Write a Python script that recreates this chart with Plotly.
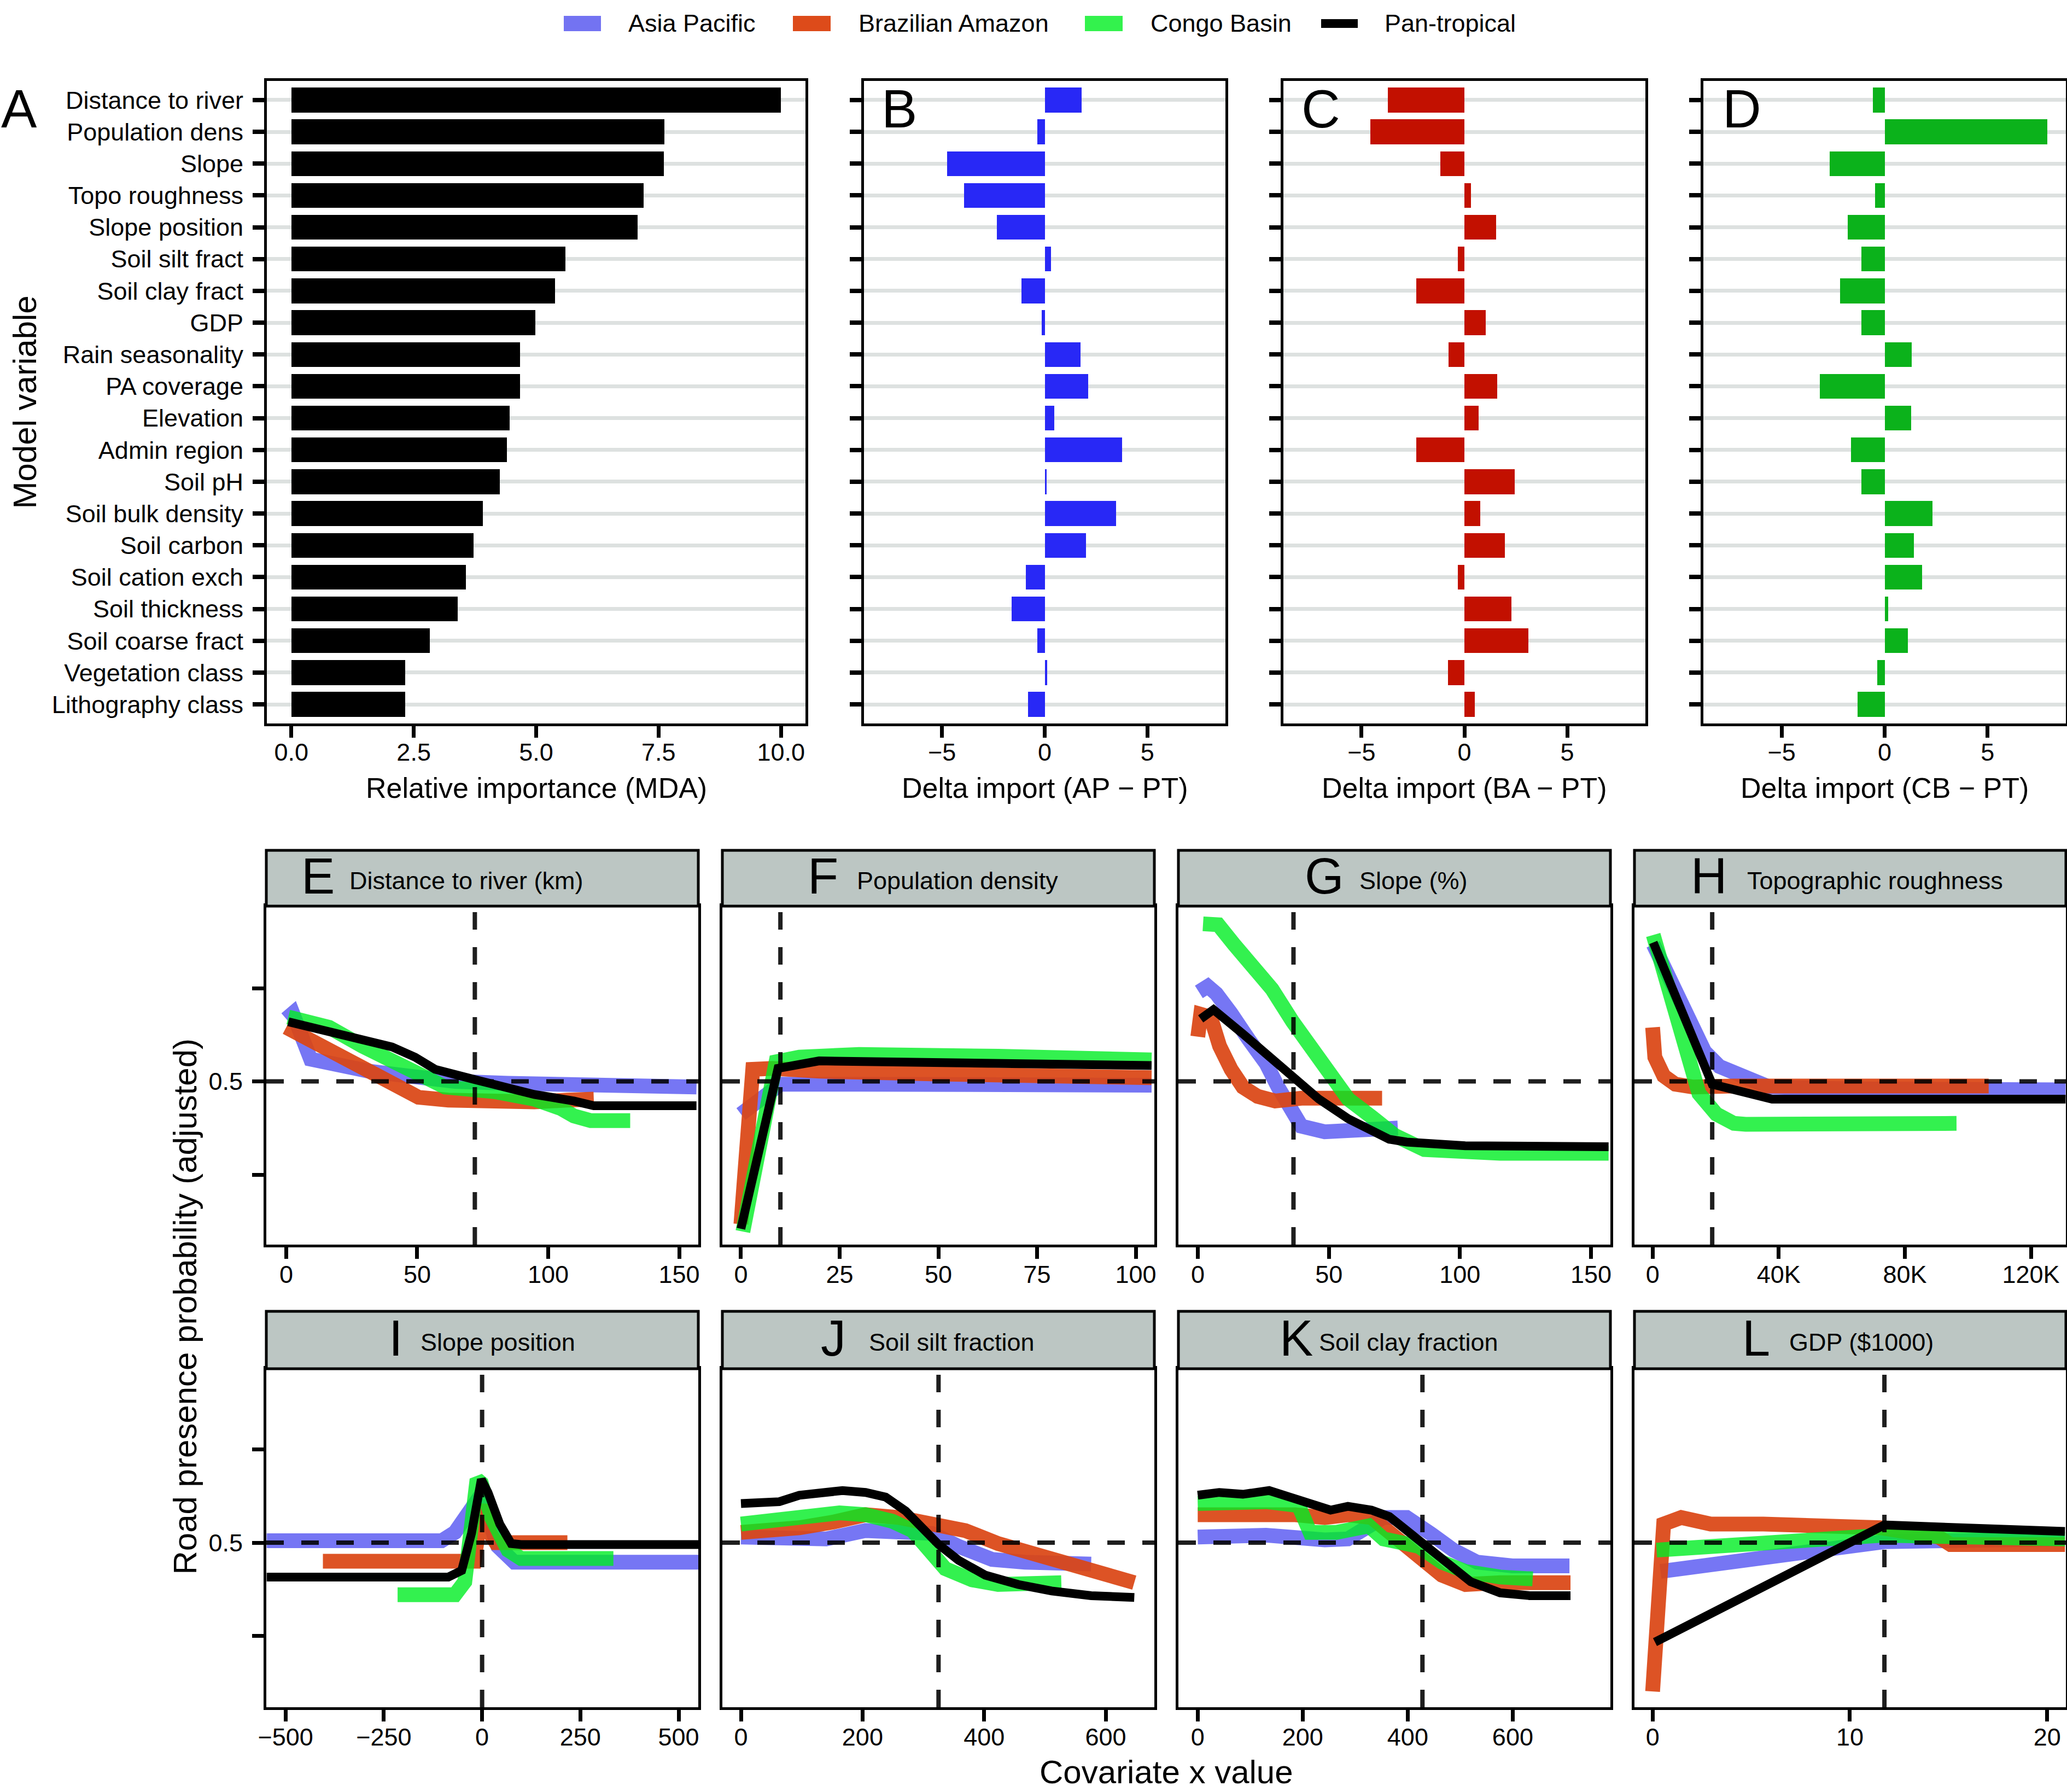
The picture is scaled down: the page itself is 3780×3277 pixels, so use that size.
import plotly.graph_objects as go

W, H = 3780, 3277
FONT = "Liberation Sans, Arial, Helvetica, sans-serif"

# ---------------- data: panel A-D ----------------
variables = ["Distance to river", "Population dens", "Slope", "Topo roughness", "Slope position",
             "Soil silt fract", "Soil clay fract", "GDP", "Rain seasonality", "PA coverage",
             "Elevation", "Admin region", "Soil pH", "Soil bulk density", "Soil carbon",
             "Soil cation exch", "Soil thickness", "Soil coarse fract", "Vegetation class",
             "Lithography class"]
importance = [10.0, 7.62, 7.61, 7.19, 7.07, 5.60, 5.39, 4.98, 4.67, 4.67,
              4.46, 4.40, 4.26, 3.91, 3.72, 3.57, 3.40, 2.83, 2.33, 2.33]
delta_ap = [1.81, -0.35, -4.75, -3.94, -2.32, 0.31, -1.12, -0.15, 1.74, 2.12,
            0.46, 3.78, 0.08, 3.47, 2.00, -0.93, -1.62, -0.35, 0.12, -0.81]
delta_ba = [-3.72, -4.57, -1.16, 0.31, 1.55, -0.31, -2.33, 1.05, -0.78, 1.59,
            0.70, -2.33, 2.44, 0.78, 1.98, -0.31, 2.29, 3.10, -0.81, 0.50]
delta_cb = [-0.58, 7.90, -2.67, -0.47, -1.78, -1.12, -2.17, -1.12, 1.32, -3.14,
            1.28, -1.63, -1.12, 2.33, 1.43, 1.82, 0.16, 1.12, -0.35, -1.32]

regions = ["Asia Pacific", "Brazilian Amazon", "Congo Basin", "Pan-tropical"]

# ---------------- data: partial dependence panels ----------------
# E Distance to river (km)
river_ap_x = [0, 2.5, 9.3, 18.9, 31.6, 49.2, 64.4, 84.6, 120, 156.6]
river_ap_y = [0.567, 0.573, 0.524, 0.518, 0.511, 0.505, 0.500, 0.498, 0.495, 0.494]
river_ba_x = [0, 8.8, 18.9, 29, 40.4, 50.5, 61.9, 79.5, 94.7, 107.3, 117.4]
river_ba_y = [0.558, 0.545, 0.530, 0.513, 0.494, 0.483, 0.480, 0.478, 0.478, 0.480, 0.481]
river_cb_x = [0.8, 16.4, 29, 39.1, 51.8, 60.6, 79.5, 94.7, 104.8, 109.8, 116.2, 131.3]
river_cb_y = [0.569, 0.558, 0.538, 0.524, 0.506, 0.494, 0.489, 0.481, 0.471, 0.463, 0.458, 0.458]
river_pt_x = [0.8, 18.9, 40.4, 49.2, 56.8, 72, 79.5, 94.7, 109.8, 117.4, 156.6]
river_pt_y = [0.564, 0.551, 0.537, 0.526, 0.513, 0.502, 0.497, 0.486, 0.479, 0.474, 0.474]

# F Population density
pop_ap_x = [0, 10, 30, 65, 104]
pop_ap_y = [0.465, 0.497, 0.497, 0.497, 0.496]
pop_ba_x = [0, 3, 8, 20, 50, 80, 104]
pop_ba_y = [0.347, 0.513, 0.514, 0.511, 0.508, 0.506, 0.504]
pop_cb_x = [0.5, 8.9, 14.8, 29.9, 65.2, 104]
pop_cb_y = [0.339, 0.521, 0.526, 0.529, 0.527, 0.523]
pop_pt_x = [0, 9.4, 19.8, 48.4, 104]
pop_pt_y = [0.342, 0.514, 0.522, 0.520, 0.517]

# G Slope (%)
slope_ap_x = [0.4, 3.8, 7.1, 9.4, 12.7, 19.4, 26.1, 30.6, 35, 39.5, 48.4, 59.6, 66.3, 76.3]
slope_ap_y = [0.596, 0.602, 0.594, 0.583, 0.573, 0.545, 0.519, 0.494, 0.471, 0.452, 0.446, 0.449, 0.449, 0.450]
slope_ba_x = [0, 1.1, 4.9, 8.3, 12.7, 17.2, 22.8, 29.5, 39.5, 70.3]
slope_ba_y = [0.548, 0.572, 0.569, 0.538, 0.513, 0.494, 0.484, 0.479, 0.482, 0.482]
slope_cb_x = [2, 7.8, 13.8, 21.7, 28.3, 36.2, 44, 50.7, 57.4, 66.3, 75.2, 86.4, 102, 115.4, 156.7]
slope_cb_y = [0.669, 0.668, 0.647, 0.621, 0.599, 0.564, 0.535, 0.506, 0.481, 0.462, 0.442, 0.427, 0.425, 0.423, 0.423]
slope_pt_x = [1.1, 6, 17.2, 26.1, 37.3, 46.2, 57.4, 66.3, 73, 79.7, 102, 156.7]
slope_pt_y = [0.567, 0.577, 0.551, 0.530, 0.503, 0.481, 0.460, 0.447, 0.438, 0.435, 0.431, 0.430]

# H Topographic roughness
rough_ap_x = [200, 5400, 10900, 16500, 21200, 27700, 37000, 63000, 131000]
rough_ap_y = [0.647, 0.609, 0.570, 0.532, 0.516, 0.508, 0.494, 0.492, 0.491]
rough_ba_x = [0, 700, 3500, 7200, 12800, 25800, 106600]
rough_ba_y = [0.558, 0.526, 0.506, 0.497, 0.494, 0.495, 0.495]
rough_cb_x = [200, 3500, 7200, 10900, 14700, 20200, 25800, 29500, 96400]
rough_cb_y = [0.657, 0.618, 0.570, 0.519, 0.487, 0.465, 0.455, 0.454, 0.455]
rough_pt_x = [200, 18900, 37900, 131000]
rough_pt_y = [0.649, 0.497, 0.481, 0.481]

# I Slope position
spos_ap_x = [-548, -103, -69, -35, -10, 15, 40, 82, 133, 550]
spos_ap_y = [0.502, 0.502, 0.511, 0.530, 0.547, 0.527, 0.496, 0.479, 0.479, 0.479]
spos_ba_x = [-405, -20, -5, 5, 20, 35, 217]
spos_ba_y = [0.480, 0.480, 0.527, 0.540, 0.510, 0.500, 0.500]
spos_cb_x = [-215, -69, -44, -27, -13, -2, 24, 66, 99, 334]
spos_cb_y = [0.444, 0.444, 0.458, 0.510, 0.568, 0.564, 0.527, 0.492, 0.483, 0.483]
spos_pt_x = [-548, -86, -52, -27, -2, 15, 45, 74, 99, 550]
spos_pt_y = [0.463, 0.463, 0.470, 0.510, 0.568, 0.554, 0.520, 0.499, 0.498, 0.498]

# J Soil silt fraction
silt_ap_x = [0, 52, 140, 205, 260, 314, 358, 413, 467, 576]
silt_ap_y = [0.506, 0.506, 0.504, 0.513, 0.513, 0.510, 0.496, 0.482, 0.479, 0.477]
silt_ba_x = [0, 52, 96, 151, 205, 260, 314, 369, 423, 478, 533, 587, 631, 647]
silt_ba_y = [0.511, 0.513, 0.516, 0.522, 0.530, 0.527, 0.522, 0.513, 0.499, 0.489, 0.479, 0.469, 0.460, 0.457]
silt_cb_x = [0, 52, 96, 162, 205, 249, 282, 309, 336, 380, 423, 527]
silt_cb_y = [0.520, 0.523, 0.528, 0.532, 0.530, 0.523, 0.513, 0.492, 0.472, 0.460, 0.455, 0.457]
silt_pt_x = [0, 63, 96, 129, 167, 205, 238, 271, 303, 325, 358, 402, 456, 511, 576, 647]
silt_pt_y = [0.542, 0.544, 0.551, 0.554, 0.556, 0.554, 0.549, 0.534, 0.513, 0.498, 0.481, 0.465, 0.455, 0.448, 0.443, 0.441]

# K Soil clay fraction
clay_ap_x = [0, 130, 242, 286, 353, 398, 443, 487, 532, 599, 708]
clay_ap_y = [0.506, 0.508, 0.503, 0.504, 0.527, 0.527, 0.510, 0.492, 0.479, 0.475, 0.475]
clay_ba_x = [0, 75, 186, 242, 286, 331, 376, 420, 465, 510, 576, 710]
clay_ba_y = [0.530, 0.531, 0.530, 0.527, 0.530, 0.527, 0.506, 0.486, 0.465, 0.455, 0.457, 0.457]
clay_cb_x = [0, 131, 192, 203, 214, 264, 298, 326, 354, 421, 465, 510, 576, 638]
clay_cb_y = [0.542, 0.544, 0.540, 0.527, 0.511, 0.511, 0.513, 0.518, 0.504, 0.496, 0.479, 0.469, 0.463, 0.461]
clay_pt_x = [0, 41, 86, 136, 175, 220, 253, 286, 331, 365, 398, 431, 476, 520, 576, 632, 710]
clay_pt_y = [0.551, 0.554, 0.552, 0.556, 0.549, 0.542, 0.535, 0.539, 0.535, 0.528, 0.513, 0.496, 0.475, 0.458, 0.446, 0.443, 0.443]

# L GDP ($1000)
gdp_ap_x = [0.4, 4.1, 11.75, 20.9]
gdp_ap_y = [0.469, 0.479, 0.501, 0.504]
gdp_ba_x = [0, 0.56, 1.45, 2.94, 5.61, 11.54, 14.5, 15.1, 20.9]
gdp_ba_y = [0.340, 0.520, 0.527, 0.520, 0.520, 0.516, 0.506, 0.498, 0.498]
gdp_cb_x = [0.2, 4.1, 11.75, 20.9]
gdp_cb_y = [0.492, 0.498, 0.508, 0.504]
gdp_pt_x = [0.12, 11.75, 20.9]
gdp_pt_y = [0.393, 0.519, 0.512]

# median (vertical dashed) positions
medians = [72, 10, 36.5, 18900, 0, 325, 428, 11.75]
strip_letters = ["E", "F", "G", "H", "I", "J", "K", "L"]
strip_titles = ["Distance to river (km)", "Population density", "Slope (%)", "Topographic roughness",
                "Slope position", "Soil silt fraction", "Soil clay fraction", "GDP ($1000)"]
x_tickvals = [[0, 50, 100, 150], [0, 25, 50, 75, 100], [0, 50, 100, 150], [0, 40000, 80000, 120000],
              [-500, -250, 0, 250, 500], [0, 200, 400, 600], [0, 200, 400, 600], [0, 10, 20]]
x_ticktext = [["0", "50", "100", "150"], ["0", "25", "50", "75", "100"], ["0", "50", "100", "150"],
              ["0", "40K", "80K", "120K"], ["\u2212500", "\u2212250", "0", "250", "500"],
              ["0", "200", "400", "600"], ["0", "200", "400", "600"], ["0", "10", "20"]]

pd_series = [
    [(river_ap_x, river_ap_y), (river_ba_x, river_ba_y), (river_cb_x, river_cb_y), (river_pt_x, river_pt_y)],
    [(pop_ap_x, pop_ap_y), (pop_ba_x, pop_ba_y), (pop_cb_x, pop_cb_y), (pop_pt_x, pop_pt_y)],
    [(slope_ap_x, slope_ap_y), (slope_ba_x, slope_ba_y), (slope_cb_x, slope_cb_y), (slope_pt_x, slope_pt_y)],
    [(rough_ap_x, rough_ap_y), (rough_ba_x, rough_ba_y), (rough_cb_x, rough_cb_y), (rough_pt_x, rough_pt_y)],
    [(spos_ap_x, spos_ap_y), (spos_ba_x, spos_ba_y), (spos_cb_x, spos_cb_y), (spos_pt_x, spos_pt_y)],
    [(silt_ap_x, silt_ap_y), (silt_ba_x, silt_ba_y), (silt_cb_x, silt_cb_y), (silt_pt_x, silt_pt_y)],
    [(clay_ap_x, clay_ap_y), (clay_ba_x, clay_ba_y), (clay_cb_x, clay_cb_y), (clay_pt_x, clay_pt_y)],
    [(gdp_ap_x, gdp_ap_y), (gdp_ba_x, gdp_ba_y), (gdp_cb_x, gdp_cb_y), (gdp_pt_x, gdp_pt_y)],
]

# ---------------- styles / layout geometry (pixels) ----------------
x_ranges = [[-7.6, 157.3], [-4.7, 104.7], [-7.4, 157.4], [-5760, 131100],
            [-549, 550], [-30.6, 680], [-36.8, 786], [-0.92, 20.95]]
line_colors = ["rgba(60,60,240,0.70)", "rgba(218,70,20,0.93)", "rgba(0,238,35,0.80)", "#000000"]
line_widths = [27, 27, 27, 16]
legend_colors = ["#7373F2", "#DD4B1A", "#33F24D", "#000000"]
bar_colors = ["#000000", "#2828F6", "#C21000", "#0BB21B"]

top_y = (148, 1323)
top_cols = [(488, 1473), (1580, 2241), (2347, 3009), (3115, 3778)]
bot_cols = [(487, 1277), (1321, 2111), (2155, 2945), (2989, 3778)]
rows = [dict(strip=1555, top=1657, bottom=2276, yr=[0.325, 0.688]),
        dict(strip=2398, top=2503, bottom=3122, yr=[0.323, 0.687])]


def dx(a, b):
    return [a / W, b / W]


def dy(top, bottom):
    return [1 - bottom / H, 1 - top / H]


def px_y(p):
    return 1 - p / H


TICKFONT = dict(family=FONT, size=45, color="black")
base_axis = dict(showline=True, mirror=True, linecolor="black", linewidth=5, zeroline=False,
                 showgrid=False, ticks="outside", ticklen=21, tickwidth=7, tickcolor="black",
                 tickfont=TICKFONT, automargin=False)

fig = go.Figure()
layout = {}
shapes = []
annotations = []

# ---------------- top bar panels ----------------
bar_values = [importance, delta_ap, delta_ba, delta_cb]
ypos = list(range(len(variables)))
for i, vals in enumerate(bar_values):
    k = i + 1
    sfx = "" if k == 1 else str(k)
    fig.add_trace(go.Bar(x=vals, y=ypos, orientation="h", width=0.78,
                         marker=dict(color=bar_colors[i], line=dict(width=0)),
                         xaxis="x" + sfx, yaxis="y" + sfx, hoverinfo="skip", showlegend=False))
    xa = dict(base_axis, domain=dx(*top_cols[i]), anchor="y" + sfx, ticklabelstandoff=-12)
    if i == 0:
        xa.update(range=[-0.5, 10.5], tickvals=[0, 2.5, 5, 7.5, 10],
                  ticktext=["0.0", "2.5", "5.0", "7.5", "10.0"])
    else:
        xa.update(range=[-8.8, 8.8], tickvals=[-5, 0, 5], ticktext=["\u22125", "0", "5"])
    ya = dict(base_axis, domain=dy(*top_y), anchor="x" + sfx, range=[19.6, -0.6],
              tickvals=ypos, ticktext=variables, showgrid=True, gridcolor="#DDE1E0", gridwidth=7,
              showticklabels=(i == 0), tickwidth=8, ticklabelstandoff=8)
    layout["xaxis" + sfx] = xa
    layout["yaxis" + sfx] = ya

top_titles = ["Relative importance (MDA)", "Delta import (AP \u2212 PT)",
              "Delta import (BA \u2212 PT)", "Delta import (CB \u2212 PT)"]
for i, t in enumerate(top_titles):
    cx = (top_cols[i][0] + top_cols[i][1]) / 2 / W
    annotations.append(dict(text=t, x=cx, y=px_y(1441), xref="paper", yref="paper",
                            xanchor="center", yanchor="middle", showarrow=False,
                            font=dict(family=FONT, size=52, color="black")))

panel_letters = ["A", "B", "C", "D"]
letter_x = [0, 1610, 2378, 3148]
for L, lx in zip(panel_letters, letter_x):
    annotations.append(dict(text=L, x=lx / W, y=px_y(199), xref="paper", yref="paper",
                            xanchor="left", yanchor="middle", showarrow=False,
                            font=dict(family=FONT, size=98, color="black")))

annotations.append(dict(text="Model variable", x=45 / W, y=(px_y(top_y[0]) + px_y(top_y[1])) / 2,
                        xref="paper", yref="paper", xanchor="center", yanchor="middle",
                        textangle=-90, showarrow=False,
                        font=dict(family=FONT, size=60, color="black")))

# ---------------- bottom partial-dependence panels ----------------
letter_px = [549, 1475, 2384, 3090, 709, 1499, 2338, 3184]
title_px = [637, 1565, 2484, 3193, 767, 1587, 2410, 3270]
for p in range(8):
    k = p + 5
    r = rows[p // 4]
    c = bot_cols[p % 4]
    xs, ys = "x%d" % k, "y%d" % k
    for s, (sx, sy) in enumerate(pd_series[p]):
        fig.add_trace(go.Scatter(x=sx, y=sy, mode="lines", xaxis=xs, yaxis=ys,
                                 line=dict(color=line_colors[s], width=line_widths[s]),
                                 hoverinfo="skip", showlegend=False))
    layout["xaxis%d" % k] = dict(base_axis, domain=dx(*c), anchor=ys, range=x_ranges[p],
                                 tickvals=x_tickvals[p], ticktext=x_ticktext[p],
                                 ticklabelstandoff=-10)
    ya = dict(base_axis, domain=dy(r["top"], r["bottom"]), anchor=xs, range=r["yr"],
              tickvals=[0.4, 0.5, 0.6], ticktext=["", "0.5", ""], ticklabelstandoff=8)
    if p % 4 != 0:
        ya.update(ticks="", showticklabels=False)
    layout["yaxis%d" % k] = ya
    # strip
    shapes.append(dict(type="rect", xref="paper", yref="paper", x0=c[0] / W, x1=c[1] / W,
                       y0=px_y(r["top"]), y1=px_y(r["strip"]), fillcolor="#BCC6C3",
                       line=dict(color="black", width=5), layer="above"))
    sc = (r["strip"] + r["top"]) / 2
    annotations.append(dict(text=strip_letters[p], x=letter_px[p] / W, y=px_y(sc - 4),
                            xref="paper", yref="paper", xanchor="left", yanchor="middle",
                            showarrow=False, font=dict(family=FONT, size=92, color="black")))
    annotations.append(dict(text=strip_titles[p], x=title_px[p] / W, y=px_y(sc + 4),
                            xref="paper", yref="paper", xanchor="left", yanchor="middle",
                            showarrow=False, font=dict(family=FONT, size=45, color="black")))
    # reference dashed lines
    shapes.append(dict(type="line", xref=xs, yref=ys + " domain", x0=medians[p], x1=medians[p],
                       y0=0, y1=1, line=dict(color="black", width=8, dash="32px,32px"),
                       opacity=0.88, layer="above"))
    shapes.append(dict(type="line", xref=xs + " domain", yref=ys, x0=0, x1=1, y0=0.5, y1=0.5,
                       line=dict(color="black", width=8, dash="32px,32px"),
                       opacity=0.88, layer="above"))

annotations.append(dict(text="Road presence probability (adjusted)", x=338 / W,
                        y=(px_y(rows[0]["top"]) + px_y(rows[1]["bottom"])) / 2,
                        xref="paper", yref="paper", xanchor="center", yanchor="middle",
                        textangle=-90, showarrow=False,
                        font=dict(family=FONT, size=60, color="black")))
annotations.append(dict(text="Covariate x value", x=(bot_cols[0][0] + bot_cols[3][1]) / 2 / W,
                        y=px_y(3240), xref="paper", yref="paper", xanchor="center",
                        yanchor="middle", showarrow=False,
                        font=dict(family=FONT, size=60, color="black")))

# ---------------- legend (drawn manually) ----------------
leg_sw = [(1031, 1099, 29, 57), (1450, 1519, 29, 57), (1984, 2053, 29, 57), (2416, 2483, 35, 51)]
leg_tx = [1147, 1568, 2102, 2530]
for i, name in enumerate(regions):
    x0, x1, y0, y1 = leg_sw[i]
    shapes.append(dict(type="rect", xref="paper", yref="paper", x0=x0 / W, x1=x1 / W,
                       y0=px_y(y1), y1=px_y(y0), fillcolor=legend_colors[i],
                       line=dict(width=0), layer="above"))
    annotations.append(dict(text=name, x=leg_tx[i] / W, y=px_y(43), xref="paper", yref="paper",
                            xanchor="left", yanchor="middle", showarrow=False,
                            font=dict(family=FONT, size=45, color="black")))

fig.update_layout(width=W, height=H, margin=dict(l=0, r=0, t=0, b=0, pad=0, autoexpand=False),
                  paper_bgcolor="white", plot_bgcolor="white", showlegend=False,
                  bargap=0, shapes=shapes, annotations=annotations,
                  font=dict(family=FONT, size=45, color="black"), **layout)

fig.write_html("out.html",
               post_script="document.body.style.margin='0';document.body.style.padding='0';"
                           "document.body.style.overflow='hidden';")
